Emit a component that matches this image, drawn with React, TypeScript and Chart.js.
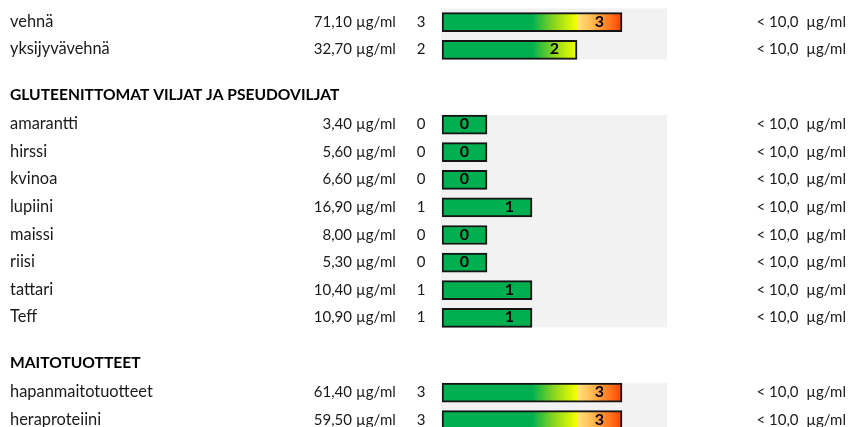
import React, { useEffect, useRef } from "react";
import { Chart, registerables } from "chart.js";

Chart.register(...registerables);

// ---- data ----
const groupHeaders = ["", "GLUTEENITTOMAT VILJAT JA PSEUDOVILJAT", "MAITOTUOTTEET"];
const allergens = [
  "vehnä",
  "yksijyvävehnä",
  "amarantti",
  "hirssi",
  "kvinoa",
  "lupiini",
  "maissi",
  "riisi",
  "tattari",
  "Teff",
  "hapanmaitotuotteet",
  "heraproteiini",
];
const groupIndex = [0, 0, 1, 1, 1, 1, 1, 1, 1, 1, 2, 2];
const concentrations = [71.1, 32.7, 3.4, 5.6, 6.6, 16.9, 8.0, 5.3, 10.4, 10.9, 61.4, 59.5];
const classes = [3, 2, 0, 0, 0, 1, 0, 0, 1, 1, 3, 3];
const referenceLimit = 10.0;
const unit = "µg/ml";
const CLASS_MAX = 5;

// ---- layout constants ----
const W = 849;
const H = 427;
const ROW_PX = 27.6;
const FIRST_ROW_PX = 22.2;
const GROUP_GAP = 1.71; // blank paragraph before a group header, in rows
const FONT = "Lato, 'Open Sans', sans-serif";
const FS_NAME = 16.4;
const FS_NUM = 15;
const FS_HEAD = 15.6;

const fmt = (v: number, d: number) => v.toFixed(d).replace(".", ",");

// row positions on the (linear) y axis
const rowPos: number[] = [];
const headerPos: (number | null)[] = groupHeaders.map(() => null);
{
  let p = 0;
  allergens.forEach((_, i) => {
    if (i > 0) {
      if (groupIndex[i] !== groupIndex[i - 1]) {
        p += 1 + GROUP_GAP;
        headerPos[groupIndex[i]] = p - 1;
      } else {
        p += 1;
      }
    }
    rowPos.push(p);
  });
}

const yMin = -FIRST_ROW_PX / ROW_PX;
const yMax = yMin + H / ROW_PX;

const backgroundPlugin = {
  id: "rowBackground",
  beforeDatasetsDraw(chart: any) {
    const { ctx, scales } = chart;
    const xs = scales.x;
    const ys = scales.y;
    const half = 9.5;
    ctx.save();
    ctx.fillStyle = "#f2f2f2";
    groupHeaders.forEach((h, g) => {
      const idx = allergens.map((_, i) => i).filter((i) => groupIndex[i] === g);
      if (!idx.length) return;
      const first = rowPos[idx[0]];
      const last = rowPos[idx[idx.length - 1]];
      const top = h ? ys.getPixelForValue(first) - half : ys.getPixelForValue(first - 0.5);
      const bottom = ys.getPixelForValue(last) + half;
      const x0 = xs.getPixelForValue(0) - 1;
      const x1 = xs.getPixelForValue(CLASS_MAX);
      ctx.fillRect(x0, top, x1 - x0, bottom - top);
    });
    ctx.restore();
  },
};

const textPlugin = {
  id: "tableText",
  afterDatasetsDraw(chart: any) {
    const { ctx, scales } = chart;
    const xs = scales.x;
    const ys = scales.y;
    ctx.save();
    ctx.textBaseline = "alphabetic";
    allergens.forEach((name, i) => {
      const y = ys.getPixelForValue(rowPos[i]) + 4.6;
      ctx.fillStyle = "#1a1a1a";
      ctx.font = `${FS_NAME}px ${FONT}`;
      ctx.textAlign = "left";
      ctx.fillText(name, 10, y);
      ctx.font = `${FS_NUM}px ${FONT}`;
      ctx.textAlign = "right";
      ctx.fillText(fmt(concentrations[i], 2), 352, y);
      ctx.textAlign = "left";
      ctx.fillText(unit, 356, y);
      ctx.textAlign = "center";
      ctx.fillText(String(classes[i]), 421, y);
      ctx.textAlign = "right";
      ctx.fillText(`< ${fmt(referenceLimit, 1)}  ${unit}`, 846, y);
      // class label inside bar
      ctx.font = `bold ${FS_NUM + 1}px ${FONT}`;
      ctx.textAlign = "center";
      ctx.fillStyle = "#000";
      ctx.fillText(String(classes[i]), xs.getPixelForValue(classes[i] + 0.5), y);
    });
    headerPos.forEach((hp, g) => {
      if (hp === null || !groupHeaders[g]) return;
      ctx.font = `bold ${FS_HEAD}px ${FONT}`;
      ctx.textAlign = "left";
      ctx.fillStyle = "#000";
      ctx.fillText(groupHeaders[g], 10, ys.getPixelForValue(hp) + 3.5);
    });
    ctx.restore();
  },
};

export default function App() {
  const ref = useRef<HTMLCanvasElement | null>(null);
  useEffect(() => {
    if (!ref.current) return;
    const chart = new Chart(ref.current, {
      type: "bar",
      data: {
        datasets: [
          {
            data: classes.map((c, i) => ({ x: c + 1, y: rowPos[i] })),
            backgroundColor: (c: any) => {
              const ch = c.chart;
              if (!ch.chartArea) return "#00B050";
              const xs = ch.scales.x;
              const x0 = xs.getPixelForValue(0);
              const x1 = xs.getPixelForValue(CLASS_MAX);
              const g = ch.ctx.createLinearGradient(x0, 0, x1, 0);
              const s = (v: number) => v / CLASS_MAX;
              g.addColorStop(0, "#00B050");
              g.addColorStop(s(2), "#00B050");
              g.addColorStop(s(2.5), "#8ED61E");
              g.addColorStop(s(3) - 0.002, "#F2FF00");
              g.addColorStop(s(3), "#FFE57A");
              g.addColorStop(s(3.35), "#FFB84E");
              g.addColorStop(s(3.7), "#FF7A22");
              g.addColorStop(s(4), "#FF4200");
              g.addColorStop(1, "#FF0000");
              return g;
            },
            borderColor: "#141414",
            borderWidth: 2,
            borderSkipped: false,
            barThickness: 19,
          },
        ],
      },
      options: {
        indexAxis: "y",
        animation: false,
        responsive: false,
        devicePixelRatio: 1,
        layout: { padding: { left: 442, right: W - 667, top: 0, bottom: 0 } },
        scales: {
          x: { type: "linear", min: 0, max: CLASS_MAX, display: false, offset: false },
          y: { type: "linear", min: yMin, max: yMax, reverse: true, display: false, offset: false },
        },
        plugins: { legend: { display: false }, tooltip: { enabled: false } },
      },
      plugins: [backgroundPlugin, textPlugin],
    } as any);
    return () => chart.destroy();
  }, []);
  return (
    <div style={{ position: "absolute", left: 0, top: 0, width: W, height: H, background: "#fff" }}>
      <canvas ref={ref} width={W} height={H} />
    </div>
  );
}
